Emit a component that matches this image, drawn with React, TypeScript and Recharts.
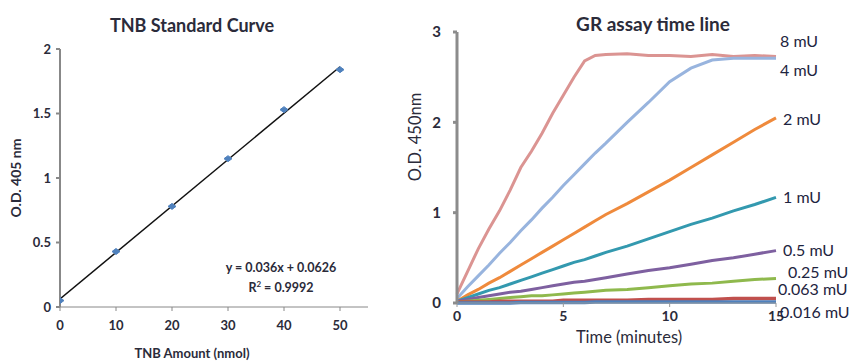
import React from 'react';
import {
  ComposedChart,
  LineChart,
  Line,
  Scatter,
  XAxis,
  YAxis,
} from 'recharts';

// TNB standard curve
const tnbAmounts = [0, 10, 20, 30, 40, 50];
const tnbOD = [0.05, 0.43, 0.78, 1.15, 1.53, 1.84];
const trendX = [0, 50];
const trendY = [0.0626, 1.8626];
const tnbXTicks = [0, 10, 20, 30, 40, 50];
const tnbYTicks = [0, 0.5, 1, 1.5, 2];

// GR assay time line
const times = [0, 0.5, 1, 1.5, 2, 2.5, 3, 3.5, 4, 4.5, 5, 5.5, 6, 6.5, 7, 8, 9, 10, 11, 12, 13, 14, 15];
const seriesNames = ['8 mU', '4 mU', '2 mU', '1 mU', '0.5 mU', '0.25 mU', '0.063 mU', '0.016 mU'];
const gr8 = [0.1, 0.35, 0.6, 0.82, 1.02, 1.25, 1.5, 1.68, 1.88, 2.1, 2.3, 2.5, 2.68, 2.74, 2.75, 2.76, 2.74, 2.74, 2.73, 2.75, 2.73, 2.74, 2.73];
const gr4 = [0.05, 0.18, 0.3, 0.42, 0.55, 0.67, 0.8, 0.92, 1.05, 1.17, 1.3, 1.42, 1.54, 1.66, 1.77, 2.0, 2.22, 2.45, 2.6, 2.69, 2.71, 2.71, 2.71];
const gr2 = [0.02, 0.09, 0.15, 0.22, 0.28, 0.35, 0.42, 0.49, 0.56, 0.63, 0.7, 0.77, 0.84, 0.91, 0.98, 1.1, 1.23, 1.36, 1.5, 1.64, 1.78, 1.92, 2.05];
const gr1 = [0.02, 0.06, 0.1, 0.14, 0.17, 0.21, 0.25, 0.29, 0.33, 0.37, 0.41, 0.45, 0.48, 0.52, 0.56, 0.63, 0.71, 0.79, 0.87, 0.94, 1.02, 1.09, 1.17];
const gr05 = [0.02, 0.04, 0.06, 0.08, 0.1, 0.12, 0.13, 0.15, 0.17, 0.19, 0.21, 0.23, 0.24, 0.26, 0.28, 0.32, 0.36, 0.39, 0.43, 0.47, 0.5, 0.54, 0.58];
const gr025 = [0.01, 0.02, 0.03, 0.04, 0.05, 0.06, 0.07, 0.08, 0.08, 0.09, 0.1, 0.11, 0.12, 0.13, 0.14, 0.15, 0.17, 0.19, 0.21, 0.22, 0.24, 0.26, 0.27];
const gr0063 = [0.01, 0.01, 0.01, 0.01, 0.02, 0.02, 0.02, 0.02, 0.02, 0.02, 0.03, 0.03, 0.03, 0.03, 0.03, 0.03, 0.04, 0.04, 0.04, 0.04, 0.05, 0.05, 0.05];
const gr0016 = [0, 0, 0, 0, 0, 0, 0.005, 0.005, 0.005, 0.005, 0.005, 0.005, 0.005, 0.01, 0.01, 0.01, 0.01, 0.01, 0.01, 0.01, 0.01, 0.01, 0.01];
const grSeries = [gr8, gr4, gr2, gr1, gr05, gr025, gr0063, gr0016];
const grXTicks = [0, 5, 10, 15];
const grYTicks = [0, 1, 2, 3];

const colors = ['#DB9492', '#98B4DE', '#EF8A3C', '#3399AF', '#7E60A0', '#8FB94D', '#C0504D', '#4F81BD'];
// label nudge (dx, dy) next to each line end
const labelNudge = [[4, -15], [4, 12], [7, 2], [7, 0], [7, 0], [12, -6], [2, -9], [4, 10]];

const FONT = 'Lato, "Open Sans", sans-serif';
const TEXT = '#2b2b3a';

const tnbPoints = tnbAmounts.map((x, i) => ({ x, y: tnbOD[i] }));
const trendPoints = trendX.map((x, i) => ({ x, y: trendY[i] }));
const grData = times.map((t, i) => {
  const row: Record<string, number> = { t };
  seriesNames.forEach((n, s) => (row[n] = grSeries[s][i]));
  return row;
});

const Diamond = (props: any) => {
  const { cx, cy } = props;
  return (
    <path
      d={`M${cx - 4},${cy} L${cx},${cy - 3} L${cx + 4},${cy} L${cx},${cy + 3} Z`}
      fill="#4F81BD"
      stroke="#4F81BD"
      strokeWidth={1}
    />
  );
};

const EndLabel = (s: number) => (props: any) => {
  const { x, y, index } = props;
  if (index !== times.length - 1) return null;
  return (
    <text
      x={x + labelNudge[s][0]}
      y={y + labelNudge[s][1]}
      dy={5.5}
      fontSize={16}
      fontFamily={FONT}
      fill="#1e2440"
    >
      {seriesNames[s]}
    </text>
  );
};

const tick = { fill: TEXT, fontSize: 13, fontWeight: 700, fontFamily: FONT };

const abs = (x: number, y: number, extra: React.CSSProperties = {}): React.CSSProperties => ({
  position: 'absolute',
  left: x,
  top: y,
  transform: 'translate(-50%, -50%)',
  whiteSpace: 'nowrap',
  fontFamily: FONT,
  color: TEXT,
  ...extra,
});

export default function App() {
  return (
    <div style={{ position: 'absolute', left: 0, top: 0, width: 851, height: 361, background: '#fff' }}>
      {/* left chart */}
      <div style={{ position: 'absolute', left: 0, top: 0 }}>
        <ComposedChart width={380} height={361} margin={{ top: 49, right: 12, bottom: 24, left: 20 }}>
          <XAxis
            type="number"
            dataKey="x"
            domain={[0, 55]}
            ticks={tnbXTicks}
            height={30}
            stroke="#888"
            tickSize={4}
            tickMargin={10}
            tick={tick}
            allowDataOverflow
          />
          <YAxis
            type="number"
            dataKey="y"
            domain={[0, 2]}
            ticks={tnbYTicks}
            width={40}
            stroke="#888"
            strokeWidth={2}
            tickSize={4}
            tickMargin={5}
            tick={tick}
          />
          <Line
            data={trendPoints}
            dataKey="y"
            stroke="#111"
            strokeWidth={1.5}
            dot={false}
            isAnimationActive={false}
          />
          <Scatter data={tnbPoints} dataKey="y" shape={<Diamond />} isAnimationActive={false} />
        </ComposedChart>
      </div>
      <div style={abs(192, 25, { fontSize: 18, fontWeight: 700 })}>TNB Standard Curve</div>
      <div style={abs(192, 353, { fontSize: 13, fontWeight: 700 })}>TNB Amount (nmol)</div>
      <div style={abs(15, 178, { fontSize: 14, fontWeight: 700, transform: 'translate(-50%, -50%) rotate(-90deg)' })}>
        O.D. 405 nm
      </div>
      <div style={abs(281, 267, { fontSize: 12.5, fontWeight: 700 })}>y = 0.036x + 0.0626</div>
      <div style={abs(281, 287, { fontSize: 12.5, fontWeight: 700 })}>
        R<sup style={{ fontSize: 8 }}>2</sup> = 0.9992
      </div>

      {/* right chart */}
      <div style={{ position: 'absolute', left: 380, top: 0 }}>
        <LineChart width={471} height={361} data={grData} margin={{ top: 32, right: 75, bottom: 28, left: 42 }}>
          <XAxis
            type="number"
            dataKey="t"
            domain={[0, 15]}
            ticks={grXTicks}
            height={30}
            stroke="#999"
            tickSize={4}
            tickMargin={4}
            tick={{ ...tick, fontSize: 14 }}
          />
          <YAxis
            type="number"
            domain={[0, 3]}
            ticks={grYTicks}
            width={35}
            stroke="#8c8c8c"
            strokeWidth={3}
            tickSize={4}
            tickMargin={12}
            tick={{ ...tick, fontSize: 15 }}
          />
          {seriesNames.map((n, s) => (
            <Line
              key={n}
              dataKey={n}
              stroke={colors[s]}
              strokeWidth={s >= 6 ? 3.5 : 3}
              dot={false}
              type="linear"
              label={EndLabel(s)}
              isAnimationActive={false}
            />
          ))}
        </LineChart>
      </div>
      <div style={abs(653, 23, { fontSize: 19, fontWeight: 700 })}>GR assay time line</div>
      <div style={abs(629, 337, { fontSize: 16.5 })}>Time (minutes)</div>
      <div style={abs(415, 137, { fontSize: 16.5, transform: 'translate(-50%, -50%) rotate(-90deg)' })}>O.D. 450nm</div>
    </div>
  );
}
